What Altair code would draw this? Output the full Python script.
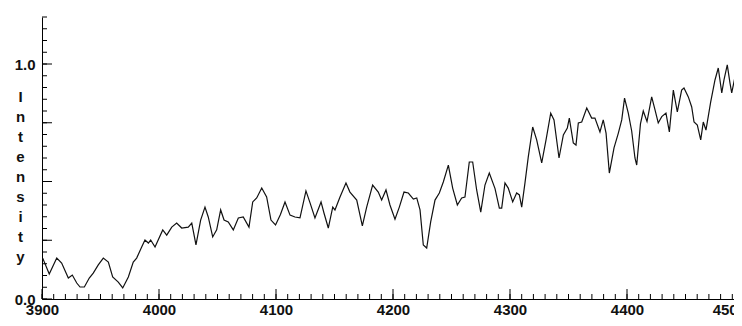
import altair as alt
import pandas as pd

# Spectrum
wavelength = [
    3900.6, 3906.2, 3912.6, 3916.8, 3922.5, 3925.9, 3929.7, 3932.5, 3936.2, 3940.4,
    3943.8, 3948.1, 3952.4, 3956.7, 3960.4, 3965.2, 3969.0, 3973.8, 3978.0, 3980.9,
    3985.2, 3988.0, 3990.9, 3992.9, 3996.6, 4003.2, 4006.6, 4010.9, 4015.1, 4019.4,
    4025.0, 4028.0, 4031.6, 4035.6, 4039.3, 4042.1, 4045.9, 4049.3, 4052.7, 4055.6,
    4059.2, 4063.5, 4067.8, 4072.0, 4076.9, 4080.1, 4083.5, 4087.8, 4092.0, 4095.7,
    4099.6, 4103.8, 4107.7, 4112.0, 4116.2, 4120.5, 4125.6, 4129.1, 4133.3, 4138.5,
    4141.0, 4144.7, 4148.5, 4150.4, 4154.7, 4159.8, 4163.2, 4169.0, 4173.8, 4177.5,
    4182.6, 4187.4, 4190.3, 4194.0, 4197.4, 4201.7, 4205.4, 4209.4, 4213.1, 4217.4,
    4220.3, 4223.1, 4225.9, 4228.8, 4232.2, 4235.9, 4239.6, 4243.0, 4247.3, 4251.0,
    4255.0, 4258.7, 4261.5, 4265.2, 4268.1, 4271.5, 4275.0, 4278.6, 4282.3, 4287.2,
    4290.9, 4292.9, 4295.7, 4298.5, 4302.3, 4305.7, 4308.0, 4310.0, 4312.8, 4315.6,
    4319.4, 4322.8, 4327.1, 4330.8, 4334.8, 4337.6, 4341.9, 4345.6, 4349.0, 4350.7,
    4354.1, 4356.4, 4358.4, 4361.3, 4365.6, 4369.8, 4372.6, 4376.9, 4379.7, 4382.1,
    4384.9, 4388.9, 4392.6, 4395.5, 4397.9, 4401.1, 4404.0, 4406.8, 4408.3, 4411.5,
    4413.9, 4417.1, 4421.1, 4424.0, 4426.7, 4429.7, 4433.3, 4436.2, 4439.6, 4443.0,
    4446.7, 4448.7, 4452.4, 4455.3, 4457.3, 4460.1, 4463.0, 4465.2, 4467.5, 4471.5,
    4475.2, 4478.0, 4481.0, 4482.9, 4485.7, 4488.0, 4489.5, 4492.3, 4494.3, 4497.2,
]
intensity = [
    0.174, 0.106, 0.174, 0.153, 0.089, 0.102, 0.068, 0.051, 0.051, 0.089,
    0.110, 0.145, 0.174, 0.157, 0.094, 0.072, 0.047, 0.094, 0.157, 0.174,
    0.221, 0.251, 0.238, 0.251, 0.221, 0.294, 0.272, 0.306, 0.323, 0.302,
    0.306, 0.323, 0.230, 0.336, 0.391, 0.349, 0.264, 0.294, 0.379, 0.336,
    0.328, 0.294, 0.345, 0.349, 0.306, 0.413, 0.430, 0.472, 0.434, 0.336,
    0.315, 0.360, 0.413, 0.357, 0.349, 0.345, 0.460, 0.409, 0.345, 0.413,
    0.366, 0.302, 0.391, 0.379, 0.434, 0.494, 0.455, 0.421, 0.311, 0.391,
    0.485, 0.455, 0.421, 0.464, 0.400, 0.340, 0.391, 0.455, 0.451, 0.425,
    0.430, 0.379, 0.230, 0.217, 0.328, 0.421, 0.451, 0.498, 0.570, 0.472,
    0.400, 0.430, 0.434, 0.583, 0.583, 0.464, 0.370, 0.485, 0.536, 0.470,
    0.387, 0.387, 0.494, 0.472, 0.413, 0.451, 0.443, 0.391, 0.494, 0.604,
    0.732, 0.677, 0.579, 0.677, 0.791, 0.762, 0.600, 0.698, 0.728, 0.770,
    0.664, 0.655, 0.749, 0.753, 0.813, 0.770, 0.770, 0.711, 0.762, 0.706,
    0.536, 0.643, 0.706, 0.762, 0.855, 0.791, 0.715, 0.600, 0.570, 0.745,
    0.800, 0.755, 0.860, 0.804, 0.749, 0.776, 0.791, 0.711, 0.889, 0.796,
    0.889, 0.898, 0.860, 0.817, 0.753, 0.740, 0.677, 0.753, 0.719, 0.838,
    0.932, 0.983, 0.877, 0.932, 0.996, 0.920, 0.877, 0.945, 0.923, 0.838,
]

# Axis tick values and labels
x_labels = [3900, 4000, 4100, 4200, 4300, 4400]
x_cut_label = [4500]          # last label, cut off by the right edge
x_major = [3900, 4000, 4100, 4200, 4300, 4400, 4500]
x_minor = list(range(3900, 4501, 10))
y_labels = [0.0, 1.0]
y_major = [0.0, 0.25, 0.5, 0.75, 1.0]
y_minor = [round(i * 0.05, 2) for i in range(25)]
y_title = ["I", "n", "t", "e", "n", "s", "i", "t", "y"]

W, H = 692, 282
FONT = "Liberation Sans"
X_END = 3900 + W / 1.17   # visible part of the wavelength axis
x_scale = alt.Scale(domain=[3900, X_END], nice=False, zero=False)
y_scale = alt.Scale(domain=[0, 1.2], nice=False, zero=False)

x_axis = alt.Axis(
    values=x_labels,
    format="d",
    ticks=False,
    tickSize=1,
    grid=False,
    title=None,
    labelFlush=False,
    labelPadding=3,
    labelFont=FONT,
    labelFontSize=15,
    labelFontWeight="bold",
    labelColor="#111111",
    domainColor="#000000",
    domainWidth=1,
)
y_axis = alt.Axis(
    values=y_labels,
    format=".1f",
    ticks=False,
    tickSize=1,
    grid=False,
    labelPadding=7,
    labelFont=FONT,
    labelFontSize=15,
    labelFontWeight="bold",
    labelColor="#111111",
    domainColor="#000000",
    domainWidth=1,
    title=y_title,
    titleAngle=0,
    titleX=-22,
    titleY=84,
    titleAlign="center",
    titleBaseline="alphabetic",
    titleLineHeight=20,
    titleFont=FONT,
    titleFontSize=15,
    titleFontWeight="bold",
    titleColor="#111111",
)

spec = pd.DataFrame({"wl": wavelength, "inten": intensity})

line = alt.Chart(spec).mark_line(color="#111111", strokeWidth=1.2).encode(
    x=alt.X("wl:Q", scale=x_scale, axis=x_axis),
    y=alt.Y("inten:Q", scale=y_scale, axis=y_axis),
)

def xticks(vals, length):
    return alt.Chart(pd.DataFrame({"wl": vals})).mark_rule(color="#000000", strokeWidth=1).encode(
        x=alt.X("wl:Q", scale=x_scale, axis=x_axis),
        y=alt.value(H),
        y2=alt.value(H - length),
    )

def yticks(vals, length):
    return alt.Chart(pd.DataFrame({"inten": vals})).mark_rule(color="#000000", strokeWidth=1).encode(
        y=alt.Y("inten:Q", scale=y_scale, axis=y_axis),
        x=alt.value(0),
        x2=alt.value(length),
    )

cut_label = alt.Chart(pd.DataFrame({"wl": x_cut_label})).mark_text(
    align="right", baseline="alphabetic", font=FONT, fontSize=15, fontWeight="bold",
    color="#111111", dx=2,
).encode(
    x=alt.X("wl:Q", scale=x_scale, axis=x_axis),
    y=alt.value(H + 16),
    text=alt.Text("wl:Q", format="d"),
)

chart = alt.layer(
    line,
    xticks(x_minor, 5),
    xticks(x_major, 10),
    yticks(y_minor, 5),
    yticks(y_major, 10),
    cut_label,
).properties(
    width=W,
    height=H,
    autosize=alt.AutoSizeParams(type="none"),
    padding={"left": 34, "top": 9, "right": 0, "bottom": 18},
    background="#ffffff",
).configure_view(strokeWidth=0)

chart.save("out.html", embed_options={"renderer": "svg", "actions": False})
